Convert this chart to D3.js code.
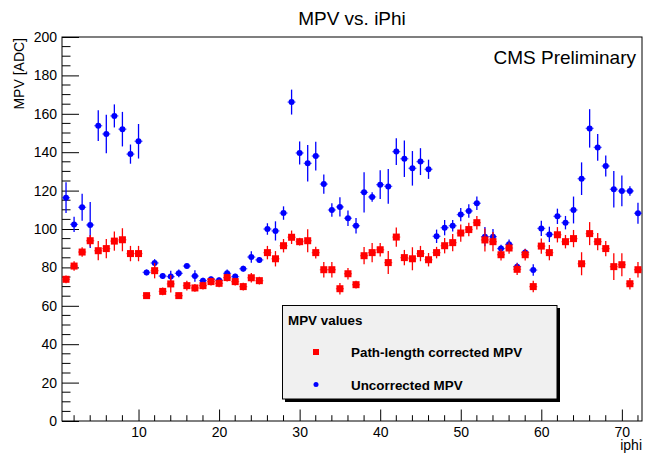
<!DOCTYPE html>
<html>
<head>
<meta charset="utf-8">
<script src="https://cdn.jsdelivr.net/npm/d3@7"></script>
<style>
html,body{margin:0;padding:0;background:#fff;}
svg{display:block;font-family:"Liberation Sans",Arial,Helvetica,sans-serif;}
</style>
</head>
<body>
<svg id="chart" width="648" height="454"></svg>
<script>
// iphi bins 1..72
const iphi = d3.range(1, 73);
const corrected = [73.8,80.7,88.0,93.9,88.7,89.8,93.7,94.4,87.2,87.2,65.3,78.3,67.5,71.4,65.3,70.5,69.3,70.5,72.6,71.7,
  74.7,72.6,70.0,74.6,73.1,87.7,84.5,91.3,95.7,93.4,93.9,87.7,78.8,78.8,68.9,76.7,71.0,86.1,87.7,89.2,
  82.5,95.8,85.1,84.5,87.2,84.0,87.7,91.3,92.9,97.9,99.7,103.3,94.3,93.4,86.6,90.1,79.0,86.6,70.0,91.1,
  87.7,97.0,93.4,95.0,81.9,97.6,93.4,89.8,80.4,81.4,71.5,78.8];
const correctedErr = [2,2.5,2.5,3,5,5,5,6,4,4,1.5,4,2,4.5,1.5,2.5,2,2,2,2,
  2,2,2,2.5,2,3.5,4,3.5,3.5,2,6,3,4,4,3,3,2,4.5,5,3.5,
  6,5,4,6,4,3.5,3,4,4.5,4.5,3.5,3.5,6,5,3,3,3,3,3,4,
  4,4,3.5,4.5,6,6,4.5,4,7,6,3,4];
const uncorrected = [116.3,102.4,111.3,102.1,153.8,149.5,158.9,152.0,139.0,145.7,77.4,82.3,75.5,75.2,76.9,80.7,75.5,73.1,73.8,73.3,
  76.9,75.2,79.3,85.4,83.9,100.0,99.0,108.3,166.1,139.6,134.2,138.0,123.4,109.9,111.5,105.6,101.7,119.1,116.7,123.1,
  122.2,140.3,136.6,131.6,135.1,131.1,96.2,100.7,101.7,107.5,109.4,113.4,96.0,96.0,89.8,92.0,80.4,87.7,78.6,100.3,
  97.2,106.6,103.3,109.9,126.2,152.4,142.5,132.8,120.7,119.8,119.8,108.2];
const uncorrectedErr = [8,4,7,12,8,10,6,9,5,9,1.5,2,1.5,3,2,1,3,1.5,1.5,1.5,
  2,1.5,1.5,3,1.5,3,5,3.5,6.5,6,9.5,7.5,5,3.5,5,4,4,10.5,2.5,7.5,
  9,7,9.5,9,7,5,3.5,4,3,3.5,3.5,3.5,5,4,2,2.5,2,2,3,4,
  4,4,3.5,7,8.5,10,7,5.5,9.5,8,2.5,5.5];
const yTicks = [0,20,40,60,80,100,120,140,160,180,200];
const xTicks = [10,20,30,40,50,60,70];

const svg = d3.select("#chart");
const L = 62, R = 642, T = 37, B = 421;
const x = d3.scaleLinear().domain([0.5, 72.5]).range([L, R]);
const y = d3.scaleLinear().domain([0, 200]).range([B, T]);

// title
svg.append("text").attr("x", 352).attr("y", 25).attr("text-anchor", "middle")
  .attr("font-size", 19).attr("fill", "#000").text("MPV vs. iPhi");

// frame
svg.append("rect").attr("x", L).attr("y", T).attr("width", R - L).attr("height", B - T)
  .attr("fill", "none").attr("stroke", "#000").attr("stroke-width", 1);

// y axis
const yAxis = d3.axisLeft(y).tickValues(yTicks).tickSize(-17).tickPadding(5);
const gy = svg.append("g").attr("transform", `translate(${L},0)`).call(yAxis);
gy.select(".domain").remove();
gy.selectAll("text").attr("font-size", 14).attr("font-family", "Liberation Sans, Arial, sans-serif").attr("fill", "#000");
gy.selectAll("line").attr("stroke", "#000");
const yMinor = d3.range(0, 201, 5).filter(v => v % 20 !== 0);
svg.append("g").selectAll("line").data(yMinor).join("line")
  .attr("x1", L).attr("x2", L + 8.5).attr("y1", d => y(d)).attr("y2", d => y(d)).attr("stroke", "#000");

// x axis
const xAxis = d3.axisBottom(x).tickValues(xTicks).tickSize(-11.5).tickPadding(6);
const gx = svg.append("g").attr("transform", `translate(0,${B})`).call(xAxis);
gx.select(".domain").remove();
gx.selectAll("text").attr("font-size", 14).attr("font-family", "Liberation Sans, Arial, sans-serif").attr("fill", "#000");
gx.selectAll("line").attr("stroke", "#000");
const xMinor = d3.range(2, 73, 2).filter(v => v % 10 !== 0);
svg.append("g").selectAll("line").data(xMinor).join("line")
  .attr("x1", d => x(d)).attr("x2", d => x(d)).attr("y1", B).attr("y2", B - 5.8).attr("stroke", "#000");

// axis titles
svg.append("text").attr("transform", `translate(24,38) rotate(-90)`).attr("text-anchor", "end")
  .attr("font-size", 14).text("MPV [ADC]");
svg.append("text").attr("x", 642).attr("y", 450).attr("text-anchor", "end")
  .attr("font-size", 14).text("iphi");

// CMS Preliminary
svg.append("text").attr("x", 636).attr("y", 64).attr("text-anchor", "end")
  .attr("font-size", 19).text("CMS Preliminary");

function drawSeries(vals, errs, color, marker) {
  const g = svg.append("g");
  const data = iphi.map((p, i) => ({p, v: vals[i], e: errs[i]}));
  g.selectAll("line.v").data(data).join("line").attr("class", "v")
    .attr("x1", d => x(d.p)).attr("x2", d => x(d.p))
    .attr("y1", d => y(d.v - d.e)).attr("y2", d => y(d.v + d.e))
    .attr("stroke", color).attr("stroke-width", 1.3);
  g.selectAll("line.h").data(data).join("line").attr("class", "h")
    .attr("x1", d => x(d.p - 0.5)).attr("x2", d => x(d.p + 0.5))
    .attr("y1", d => y(d.v)).attr("y2", d => y(d.v))
    .attr("stroke", color).attr("stroke-width", 1.3).attr("stroke-opacity", 0.6);
  if (marker === "square") {
    g.selectAll("rect").data(data).join("rect")
      .attr("x", d => x(d.p) - 3.5).attr("y", d => y(d.v) - 3.5)
      .attr("width", 7).attr("height", 7).attr("fill", color);
  } else {
    g.selectAll("circle").data(data).join("circle")
      .attr("cx", d => x(d.p)).attr("cy", d => y(d.v)).attr("r", 3).attr("fill", color);
  }
}
drawSeries(uncorrected, uncorrectedErr, "#0000ff", "circle");
drawSeries(corrected, correctedErr, "#ff0000", "square");

// legend
const lg = svg.append("g");
lg.append("rect").attr("x", 285).attr("y", 308).attr("width", 275).attr("height", 94).attr("fill", "#000");
lg.append("rect").attr("x", 282.5).attr("y", 305.5).attr("width", 274.5).attr("height", 93.5)
  .attr("fill", "#f0f0f0").attr("stroke", "#000").attr("stroke-width", 1);
lg.append("text").attr("x", 288).attr("y", 325).attr("font-size", 13.4).attr("font-weight", "bold").text("MPV values");
lg.append("rect").attr("x", 313).attr("y", 349).attr("width", 6).attr("height", 6).attr("fill", "#ff0000");
lg.append("text").attr("x", 351).attr("y", 357).attr("font-size", 13.4).attr("font-weight", "bold").text("Path-length corrected MPV");
lg.append("circle").attr("cx", 316).attr("cy", 384.5).attr("r", 2.5).attr("fill", "#0000ff");
lg.append("text").attr("x", 351).attr("y", 389.5).attr("font-size", 13.4).attr("font-weight", "bold").text("Uncorrected MPV");
</script>
</body>
</html>
